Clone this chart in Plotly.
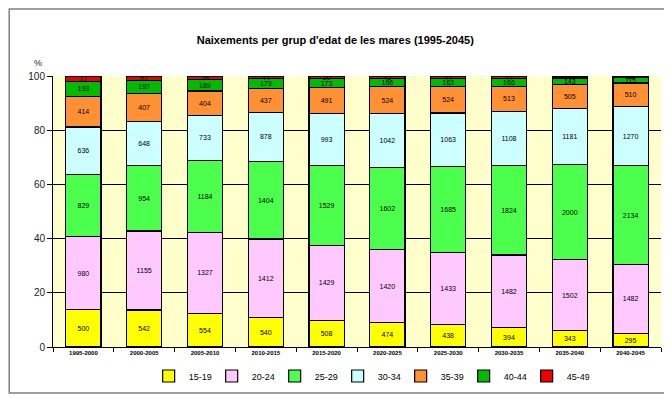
import plotly.graph_objects as go

periods = ["1995-2000", "2000-2005", "2005-2010", "2010-2015", "2015-2020",
           "2020-2025", "2025-2030", "2030-2035", "2035-2040", "2040-2045"]
age_groups = ["15-19", "20-24", "25-29", "30-34", "35-39", "40-44", "45-49"]

v_15_19 = [500, 542, 554, 540, 508, 474, 438, 394, 343, 295]
v_20_24 = [980, 1155, 1327, 1412, 1429, 1420, 1433, 1482, 1502, 1482]
v_25_29 = [829, 954, 1184, 1404, 1529, 1602, 1685, 1824, 2000, 2134]
v_30_34 = [636, 648, 733, 878, 993, 1042, 1063, 1108, 1181, 1270]
v_35_39 = [414, 407, 404, 437, 491, 524, 524, 513, 505, 510]
v_40_44 = [193, 197, 189, 179, 173, 166, 163, 166, 143, 115]
v_45_49 = [77, 62, 58, 44, 50, 45, 44, 44, 40, 36]

series = [v_15_19, v_20_24, v_25_29, v_30_34, v_35_39, v_40_44, v_45_49]
colors = ["#FFFF00", "#FFC8FF", "#4CFF4C", "#CCFFFF", "#FF9033", "#00BB00", "#EE0000"]

fig = go.Figure()
for name, vals, col in zip(age_groups, series, colors):
    fig.add_trace(go.Bar(
        x=periods, y=vals, name=name,
        marker=dict(color=col, line=dict(color="#000000", width=1.2)),
        text=[str(v) for v in vals],
        textposition="inside", insidetextanchor="middle", textangle=0,
        textfont=dict(family="Arial", size=7, color="#000000"),
        hoverinfo="x+y+name",
    ))

fig.update_layout(
    barmode="stack", barnorm="percent", bargap=0.42,
    width=672, height=398,
    margin=dict(l=45, r=19, t=68, b=59, autoexpand=False),
    paper_bgcolor="#FFFFFF", plot_bgcolor="#FFFFCC",
    uniformtext=dict(minsize=7, mode="show"),
    font=dict(family="Arial", size=10, color="#222222"),
    title=dict(text="<b>Naixements per grup d'edat de les mares (1995-2045)</b>",
               x=0.487, xanchor="center", y=0.92, yanchor="middle",
               font=dict(family="Arial", size=11, color="#000000")),
    legend=dict(orientation="h", x=0.52, xanchor="center", y=-0.107, yanchor="middle",
                font=dict(family="Arial", size=9, color="#000000"),
                entrywidth=18, traceorder="normal", bgcolor="rgba(0,0,0,0)",
                itemwidth=30),
    showlegend=True,
)

fig.update_xaxes(
    showgrid=False, showline=True, linecolor="#000000", linewidth=1,
    ticks="outside", tickson="boundaries", ticklen=4, tickcolor="#000000",
    tickfont=dict(family="Arial", size=6, color="#000000"),
    tickprefix="<b>", ticksuffix="</b>", automargin=False,
)
fig.update_yaxes(
    range=[0, 100], tickvals=[0, 20, 40, 60, 80, 100],
    showgrid=True, gridcolor="#000000", gridwidth=1,
    showline=True, linecolor="#000000", linewidth=1,
    ticks="outside", ticklen=5, tickcolor="#000000",
    tickfont=dict(family="Arial", size=10, color="#222222"),
    zeroline=False, automargin=False,
)

fig.add_annotation(text="%", xref="paper", yref="paper", x=-0.035, y=1.075,
                   showarrow=False, font=dict(family="Arial", size=9, color="#222222"))

fig.add_shape(type="rect", xref="paper", yref="paper",
              x0=-0.072, x1=1.0115, y0=-0.170, y1=1.247,
              line=dict(color="#808080", width=1.5), fillcolor="rgba(0,0,0,0)")

fig.write_html("out.html")
